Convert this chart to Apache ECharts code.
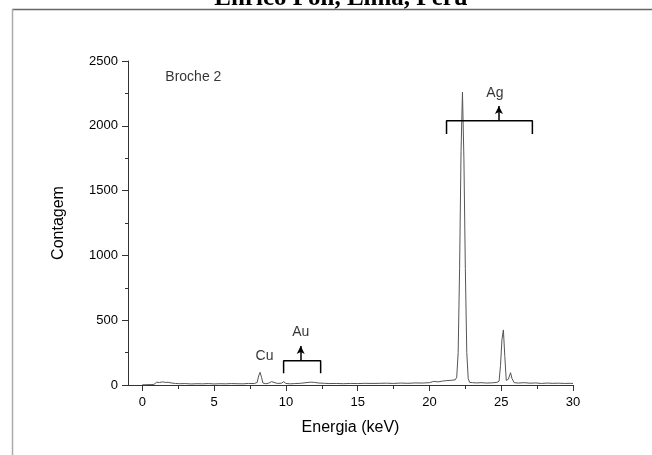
<!DOCTYPE html>
<html lang="pt">
  <head>
    <meta charset="UTF-8" />
    <title>Broche 2</title>
    <script src="https://cdn.jsdelivr.net/npm/echarts@6.0.0/dist/echarts.min.js"></script>
    <style>
      html, body { margin: 0; padding: 0; background: #fff; }
    </style>
  </head>
  <body>
    <div id="main" style="width: 652px; height: 455px"></div>
    <script type="text/javascript">
      // spectrum: energy (keV) and counts
      const energy = [
        0.0, 0.2, 0.4, 0.6, 0.8, 0.9, 1.0, 1.2, 1.4, 1.6, 1.8, 2.0, 2.3, 2.6, 3.0,
        3.4, 3.8, 4.2, 4.6, 5.0, 5.4, 5.8, 6.2, 6.6, 7.0, 7.4, 7.8, 8.0, 8.1, 8.2,
        8.3, 8.4, 8.6, 8.8, 9.0, 9.1, 9.4, 9.7, 9.85, 10.0, 10.3, 10.6, 11.0, 11.4,
        11.7, 12.0, 12.3, 12.7, 13.0, 13.5, 14.0, 14.5, 15.0, 15.5, 16.0, 16.5,
        17.0, 17.5, 18.0, 18.5, 19.0, 19.5, 20.0, 20.3, 20.6, 20.9, 21.2, 21.5,
        21.8, 21.9, 22.0, 22.1, 22.2, 22.3, 22.4, 22.5, 22.6, 22.7, 22.8, 23.0,
        23.3, 23.6, 24.0, 24.4, 24.7, 24.85, 24.95, 25.05, 25.15, 25.25, 25.35,
        25.5, 25.65, 25.75, 25.9, 26.2, 26.6, 27.0, 27.4, 27.8, 28.2, 28.6, 29.0,
        29.4, 29.8, 30.0
      ];
      const counts = [
        2, 2, 3, 3, 4, 18, 22, 19, 24, 20, 21, 16, 12, 10, 11,
        8, 10, 9, 11, 8, 10, 9, 11, 10, 9, 12, 11, 20, 70, 98,
        60, 15, 10, 14, 26, 15, 12, 14, 26, 12, 9, 11, 13, 18,
        22, 20, 15, 13, 11, 12, 10, 12, 11, 13, 12, 13,
        14, 12, 15, 13, 16, 15, 18, 28, 24, 30, 34, 36,
        40, 60, 250, 900, 1800, 2260, 1750, 900, 250, 50, 20, 18,
        16, 18, 15, 17, 20, 30, 150, 350, 425, 220, 35,
        45, 95, 50, 18, 15, 18, 14, 16, 12, 15, 13, 14,
        12, 13, 12
      ];

      // axis ticks
      const xTicks = [0, 5, 10, 15, 20, 25, 30];
      const xMinorTicks = [2.5, 7.5, 12.5, 17.5, 22.5, 27.5];

      // element brackets (keV span and height) and arrows
      const auBracket = [[9.84, 90], [9.84, 188], [12.42, 188], [12.42, 90]];
      const agBracket = [[21.19, 1937], [21.19, 2039], [27.17, 2039], [27.17, 1937]];
      const auArrow = [[11.03, 188], [11.03, 300]];
      const agArrow = [[24.84, 2039], [24.84, 2152]];

      // text notes
      const noteNames = ["Broche 2", "Cu", "Au", "Ag"];
      const noteX = [1.6, 8.51, 11.03, 24.56];
      const noteY = [2376, 224, 411, 2251];

      const font = '"Liberation Sans", Arial, sans-serif';
      const axisCol = "#333";

      let myChart = echarts.init(document.getElementById("main"));
      let options = {
        animation: false,
        textStyle: { fontFamily: font },
        graphic: [
          {
            type: "text",
            x: 341,
            y: 11,
            style: {
              text: "Enrico Poli, Lima, Peru",
              font: 'bold 25px "Liberation Serif", "Times New Roman", serif',
              fill: "#000",
              align: "center",
              verticalAlign: "bottom",
            },
          },
          {
            type: "line",
            shape: { x1: 12, y1: 9.5, x2: 652, y2: 9.5 },
            style: { stroke: "#666", lineWidth: 1.5 },
          },
          {
            type: "line",
            shape: { x1: 12.5, y1: 9, x2: 12.5, y2: 455 },
            style: { stroke: "#aaa", lineWidth: 1.5 },
          },
        ],
        grid: { left: 128, right: 79, top: 61, bottom: 70 },
        xAxis: [
          {
            type: "value",
            min: -1,
            max: 30,
            name: "Energia (keV)",
            nameLocation: "middle",
            nameGap: 35,
            nameTextStyle: { fontSize: 16, color: "#000", fontFamily: font },
            splitLine: { show: false },
            axisLine: { onZero: false, lineStyle: { color: axisCol, width: 1 } },
            axisTick: {
              customValues: xTicks,
              length: 6,
              lineStyle: { color: axisCol },
            },
            axisLabel: {
              customValues: xTicks,
              margin: 11,
              fontSize: 13,
              color: "#000",
            },
          },
          {
            type: "value",
            min: -1,
            max: 30,
            position: "bottom",
            gridIndex: 0,
            splitLine: { show: false },
            axisLine: { show: false, onZero: false },
            axisTick: {
              customValues: xMinorTicks,
              length: 4,
              lineStyle: { color: axisCol },
            },
            axisLabel: { show: false },
          },
        ],
        yAxis: {
          type: "value",
          min: 0,
          max: 2500,
          interval: 500,
          name: "Contagem",
          nameLocation: "middle",
          nameGap: 61,
          nameTextStyle: { fontSize: 16, color: "#000", fontFamily: font },
          splitLine: { show: false },
          axisLine: { show: true, onZero: false, lineStyle: { color: axisCol, width: 1 } },
          axisTick: { show: true, length: 6, lineStyle: { color: axisCol } },
          minorTick: { show: true, splitNumber: 2, length: 3, lineStyle: { color: axisCol } },
          axisLabel: {
            margin: 10,
            fontSize: 13,
            color: "#000",
            formatter: (v) => String(v),
          },
        },
        series: [
          {
            type: "line",
            data: energy.map((e, i) => [e, counts[i]]),
            showSymbol: false,
            symbol: "none",
            silent: true,
            lineStyle: { color: "#555", width: 1 },
          },
          {
            type: "line",
            data: auBracket,
            symbol: "none",
            silent: true,
            lineStyle: { color: "#000", width: 1.5 },
            markLine: {
              silent: true,
              symbol: ["none", "arrow"],
              symbolSize: [6, 8],
              label: { show: false },
              lineStyle: { color: "#000", width: 1.5, type: "solid" },
              data: [
                [{ coord: auArrow[0] }, { coord: auArrow[1] }],
                [{ coord: agArrow[0] }, { coord: agArrow[1] }],
              ],
            },
          },
          {
            type: "line",
            data: agBracket,
            symbol: "none",
            silent: true,
            lineStyle: { color: "#000", width: 1.5 },
          },
          {
            type: "scatter",
            symbolSize: 0,
            silent: true,
            data: noteNames.map((n, i) => ({
              value: [noteX[i], noteY[i]],
              label: {
                show: true,
                position: "inside",
                formatter: n,
                align: i === 0 ? "left" : "center",
                fontSize: 14,
                color: "#000",
                fontFamily: font,
              },
            })),
          },
        ],
      };
      myChart.setOption(options);
    </script>
  </body>
</html>
